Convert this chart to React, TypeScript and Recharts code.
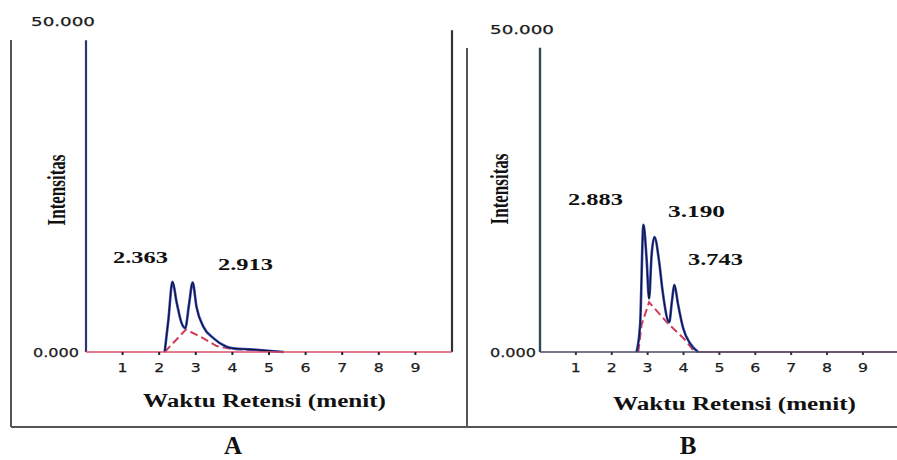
import React from 'react';
import { LineChart, Line, XAxis, YAxis } from 'recharts';

// ---------- shared axis data ----------
const xTicks = [1, 2, 3, 4, 5, 6, 7, 8, 9];
const yTicks = [0, 50];
const yTickLabels = ['0.000', '50.000'];

// ---------- Chromatogram A ----------
const timesA = [2.15, 2.25, 2.363, 2.48, 2.61, 2.71, 2.82, 2.913, 3.02, 3.21, 3.48, 3.84, 4.02, 4.48, 4.97, 5.4];
const intensityA = [0, 4.8, 10.6, 7.4, 4.4, 3.6, 7.4, 10.5, 6.8, 3.8, 2.1, 0.8, 0.55, 0.4, 0.2, 0];
const baseTimesA = [2.15, 2.73, 3.2, 3.57, 4.0, 4.5, 5.4];
const baseValuesA = [0, 3.4, 2.1, 0.9, 0.45, 0.3, 0];
const solventLeftA = [0, 47.1];
const solventRightA = [0, 48.6];
const peakLabelsA = ['2.363', '2.913'];

// ---------- Chromatogram B ----------
const timesB = [2.69, 2.79, 2.883, 2.97, 3.04, 3.11, 3.19, 3.32, 3.42, 3.6, 3.68, 3.743, 3.85, 3.99, 4.18, 4.41];
const intensityB = [0, 4.2, 19.7, 14.5, 8.3, 15.0, 17.8, 14.0, 9.3, 4.6, 8.0, 10.4, 7.3, 3.7, 1.35, 0];
const baseTimesB = [2.74, 2.83, 3.04, 3.57, 4.04, 4.27, 4.4];
const baseValuesB = [0, 4.2, 7.7, 4.4, 1.9, 0.3, 0];
const solventLeftB = [0, 47.1];
const tailTimesB = [4.4, 9.95];
const tailValuesB = [0, 0];
const peakLabelsB = ['2.883', '3.190', '3.743'];

const SERIF = '"Liberation Serif", "Times New Roman", serif';
const SANS = '"DejaVu Sans", Verdana, sans-serif';

const pts = (ts: number[], vs: number[]) => ts.map((t, i) => ({ t, v: vs[i] }));
const vertical = (t: number, vs: number[]) => vs.map((v) => ({ t, v }));

const makeYTick = (zeroGap: number, topShift: number) => (props: any) => {
  const { x, y, payload } = props;
  const idx = yTicks.indexOf(payload.value);
  const label = yTickLabels[idx];
  if (payload.value === 0) {
    return (
      <text x={x - zeroGap} y={y} textAnchor="end" dominantBaseline="central" fontFamily={SANS} fontSize={13}
        fill="#1a1a1a" stroke="#1a1a1a" strokeWidth={0.25} textLength={46} lengthAdjust="spacingAndGlyphs">{label}</text>
    );
  }
  return (
    <text x={x - topShift} y={y} textAnchor="start" dominantBaseline="central" fontFamily={SANS} fontSize={13}
      fill="#1a1a1a" stroke="#1a1a1a" strokeWidth={0.25} textLength={64} lengthAdjust="spacingAndGlyphs">{label}</text>
  );
};

const XTick = (props: any) => {
  const { x, y, payload } = props;
  return (
    <text x={x} y={y + 17} textAnchor="middle" fontFamily={SANS} fontSize={13} fill="#1a1a1a"
      stroke="#1a1a1a" strokeWidth={0.25} textLength={10} lengthAdjust="spacingAndGlyphs">{String(payload.value)}</text>
  );
};

const TRACE = '#3346b4';
const CORE = '#0d0d1a';
const RED = '#d23c55';

function ChartA() {
  return (
    <LineChart width={460} height={460} margin={{ top: 21, right: 8, left: 0, bottom: 78 }}>
      <XAxis type="number" dataKey="t" domain={[0, 10]} ticks={xTicks} height={30}
        axisLine={{ stroke: '#d8506c', strokeWidth: 1.6 }} tickLine={{ stroke: '#223', strokeWidth: 2 }}
        tickSize={3} tickMargin={0} tick={<XTick />} />
      <YAxis type="number" dataKey="v" domain={[0, 50]} ticks={yTicks} width={86}
        axisLine={false} tickLine={false} tickSize={0} tickMargin={0} tick={makeYTick(7, 55)} />
      <Line data={vertical(0, solventLeftA)} dataKey="v" type="linear" stroke="#2c3570" strokeWidth={2.2} dot={false} isAnimationActive={false} />
      <Line data={vertical(10, solventRightA)} dataKey="v" type="linear" stroke="#333" strokeWidth={2.2} dot={false} isAnimationActive={false} />
      <Line data={pts(baseTimesA, baseValuesA)} dataKey="v" type="linear" stroke={RED} strokeWidth={2} strokeDasharray="8 4" dot={false} isAnimationActive={false} />
      <Line data={pts(timesA, intensityA)} dataKey="v" type="monotone" stroke={TRACE} strokeWidth={2.6} dot={false} isAnimationActive={false} />
      <Line data={pts(timesA, intensityA)} dataKey="v" type="monotone" stroke={CORE} strokeWidth={1} dot={false} isAnimationActive={false} />
    </LineChart>
  );
}

function ChartB() {
  return (
    <LineChart width={437} height={460} margin={{ top: 29, right: 0, left: 0, bottom: 78 }}>
      <XAxis type="number" dataKey="t" domain={[0, 9.95]} ticks={xTicks} height={30}
        axisLine={{ stroke: '#4a4a6a', strokeWidth: 1.6 }} tickLine={{ stroke: '#334', strokeWidth: 2 }}
        tickSize={3} tickMargin={0} tick={<XTick />} />
      <YAxis type="number" dataKey="v" domain={[0, 50]} ticks={yTicks} width={80}
        axisLine={false} tickLine={false} tickSize={0} tickMargin={0} tick={makeYTick(4, 50)} />
      <Line data={vertical(0, solventLeftB)} dataKey="v" type="linear" stroke="#2f4a5a" strokeWidth={2.4} dot={false} isAnimationActive={false} />
      <Line data={pts(tailTimesB, tailValuesB)} dataKey="v" type="linear" stroke="#c04a66" strokeWidth={1.4} dot={false} isAnimationActive={false} />
      <Line data={pts(baseTimesB, baseValuesB)} dataKey="v" type="linear" stroke={RED} strokeWidth={2} strokeDasharray="8 4" dot={false} isAnimationActive={false} />
      <Line data={pts(timesB, intensityB)} dataKey="v" type="monotone" stroke={TRACE} strokeWidth={2.6} dot={false} isAnimationActive={false} />
      <Line data={pts(timesB, intensityB)} dataKey="v" type="monotone" stroke={CORE} strokeWidth={1} dot={false} isAnimationActive={false} />
    </LineChart>
  );
}

const boldSerif = { fontFamily: SERIF, fontWeight: 700, fill: '#111' } as const;

export default function App() {
  return (
    <div style={{ position: 'absolute', left: 0, top: 0, width: 897, height: 460, background: '#fff', overflow: 'hidden' }}>
      <div style={{ position: 'absolute', left: 0, top: 0 }}>
        <ChartA />
      </div>
      <div style={{ position: 'absolute', left: 460, top: 0 }}>
        <ChartB />
      </div>
      <svg width={897} height={460} style={{ position: 'absolute', left: 0, top: 0, pointerEvents: 'none' }}>
        {/* panel frames */}
        <line x1={11} y1={40} x2={11} y2={427} stroke="#555" strokeWidth={2} />
        <line x1={11} y1={427} x2={897} y2={427} stroke="#555" strokeWidth={2} />
        <line x1={467} y1={48} x2={467} y2={427} stroke="#555" strokeWidth={2} />

        {/* axis titles */}
        <text transform="translate(57,190) scale(1.5,1) rotate(-90)" textAnchor="middle" dominantBaseline="central"
          fontSize={17} {...boldSerif}>Intensitas</text>
        <text transform="translate(500,189) scale(1.5,1) rotate(-90)" textAnchor="middle" dominantBaseline="central"
          fontSize={17} {...boldSerif}>Intensitas</text>
        <text x={143} y={407} fontSize={18.5} textLength={243} lengthAdjust="spacingAndGlyphs" {...boldSerif}>Waktu Retensi (menit)</text>
        <text x={613} y={410} fontSize={18.5} textLength={243} lengthAdjust="spacingAndGlyphs" {...boldSerif}>Waktu Retensi (menit)</text>

        {/* peak labels */}
        <text x={113} y={263} fontSize={17} textLength={55} lengthAdjust="spacingAndGlyphs" {...boldSerif}>{peakLabelsA[0]}</text>
        <text x={218} y={270} fontSize={17} textLength={55} lengthAdjust="spacingAndGlyphs" {...boldSerif}>{peakLabelsA[1]}</text>
        <text x={568} y={205} fontSize={17} textLength={55} lengthAdjust="spacingAndGlyphs" {...boldSerif}>{peakLabelsB[0]}</text>
        <text x={668} y={217} fontSize={17} textLength={57} lengthAdjust="spacingAndGlyphs" {...boldSerif}>{peakLabelsB[1]}</text>
        <text x={688} y={265} fontSize={17} textLength={55} lengthAdjust="spacingAndGlyphs" {...boldSerif}>{peakLabelsB[2]}</text>

        {/* panel letters */}
        <text x={233} y={454} textAnchor="middle" fontSize={25} {...boldSerif}>A</text>
        <text x={688} y={454} textAnchor="middle" fontSize={25} {...boldSerif}>B</text>
      </svg>
    </div>
  );
}
